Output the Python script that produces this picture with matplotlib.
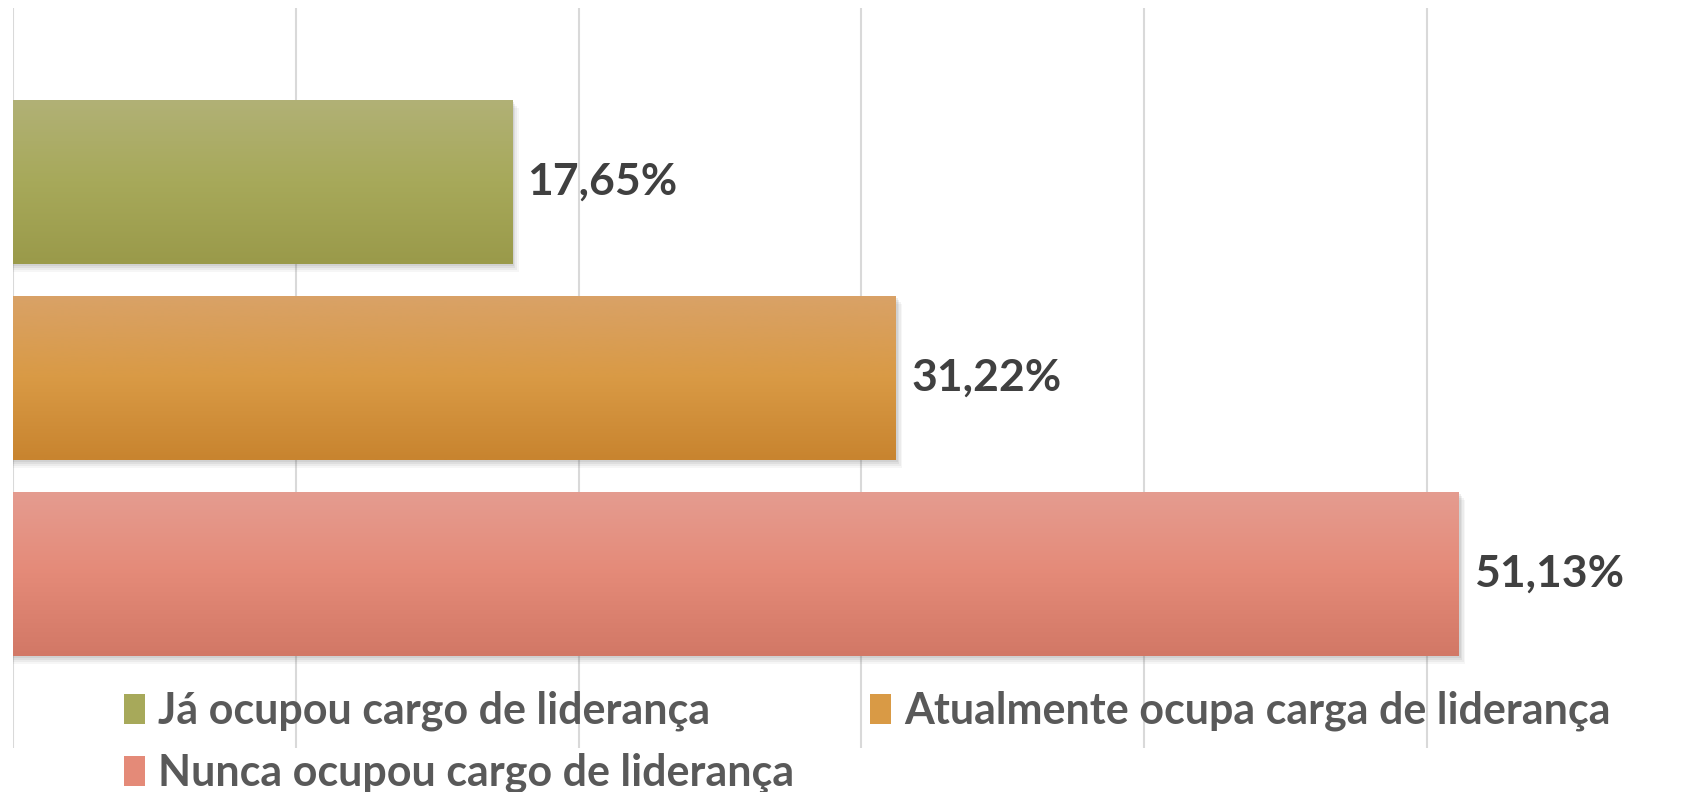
import numpy as np
import matplotlib.pyplot as plt
from matplotlib.patches import Rectangle
from matplotlib.colors import to_rgb

plt.rcParams["font.family"] = ["Lato", "DejaVu Sans"]

series = ["Já ocupou cargo de liderança",
          "Atualmente ocupa carga de liderança",
          "Nunca ocupou cargo de liderança"]
values = [17.65, 31.22, 51.13]
labels = ["17,65%", "31,22%", "51,13%"]
# top, middle, bottom shades of each bar's gradient
grad_colors = [("#b1b176", "#a7a95a", "#9a9a4a"),
               ("#d9a267", "#d99a45", "#c8842f"),
               ("#e59c90", "#e48a78", "#d27866")]

W, H = 1692, 792
fig = plt.figure(figsize=(W / 100, H / 100), dpi=100)
ax = fig.add_axes([13 / W, 44 / H, 1 - 13 / W, 740 / H])

pos = np.arange(len(values))
bar_h = 0.837
xmax = (W - 13) / 28.28

ax.set_xlim(0, xmax)
ax.set_ylim(2.888, -0.888)
ax.set_xticks(np.arange(0, 51, 10))
ax.grid(axis="x", color="#d9d9d9", linewidth=1.5)
ax.set_axisbelow(True)
ax.tick_params(left=False, bottom=False, labelleft=False, labelbottom=False)
for s in ax.spines.values():
    s.set_visible(False)

# soft drop shadow
dx, dy = 4 / 28.28, 5 / 196
for y, v in zip(pos, values):
    for k, a in [(1.6, 0.05), (1.2, 0.07), (0.8, 0.09), (0.4, 0.1)]:
        ax.add_patch(Rectangle((0, y - bar_h / 2 + dy * k), v + dx * k, bar_h,
                               facecolor="#606060", edgecolor="none", alpha=a, zorder=2))

bars = ax.barh(pos, values, height=bar_h, color="none", zorder=3)
for b, y, v, cols in zip(bars, pos, values, grad_colors):
    c = [np.array(to_rgb(x)) for x in cols]
    t = np.linspace(0, 1, 100)[:, None]
    g = np.where(t < 0.5, c[0] + (c[1] - c[0]) * (t / 0.5), c[1] + (c[2] - c[1]) * ((t - 0.5) / 0.5))
    img = ax.imshow(g[:, None, :], extent=(0, v, y + bar_h / 2, y - bar_h / 2),
                    origin="upper", aspect="auto", zorder=3, interpolation="bilinear")
    img.set_clip_path(b)

for y, v, lab in zip(pos, values, labels):
    ax.annotate(lab, (v, y), xytext=(11, 0), textcoords="offset points",
                va="center", ha="left", fontsize=32, fontweight="bold", color="#404040",
                annotation_clip=False)

ax.set_xlim(0, xmax)
ax.set_ylim(2.888, -0.888)

# legend fills column-wise, so reorder to get the reference's row layout
order = [0, 2, 1]
handles = [Rectangle((0, 0), 1, 1, facecolor=grad_colors[i][1], edgecolor="none") for i in order]
fig.legend(handles, [series[i] for i in order], ncol=2, loc="upper left",
           bbox_to_anchor=(85 / W, 1 - 652 / H),
           frameon=False, handlelength=0.5, handleheight=0.7,
           handletextpad=0.3, columnspacing=1.75, labelspacing=0.5,
           prop={"weight": "bold", "size": 31}, labelcolor="#595959")

fig.savefig("out.png", dpi=100)
